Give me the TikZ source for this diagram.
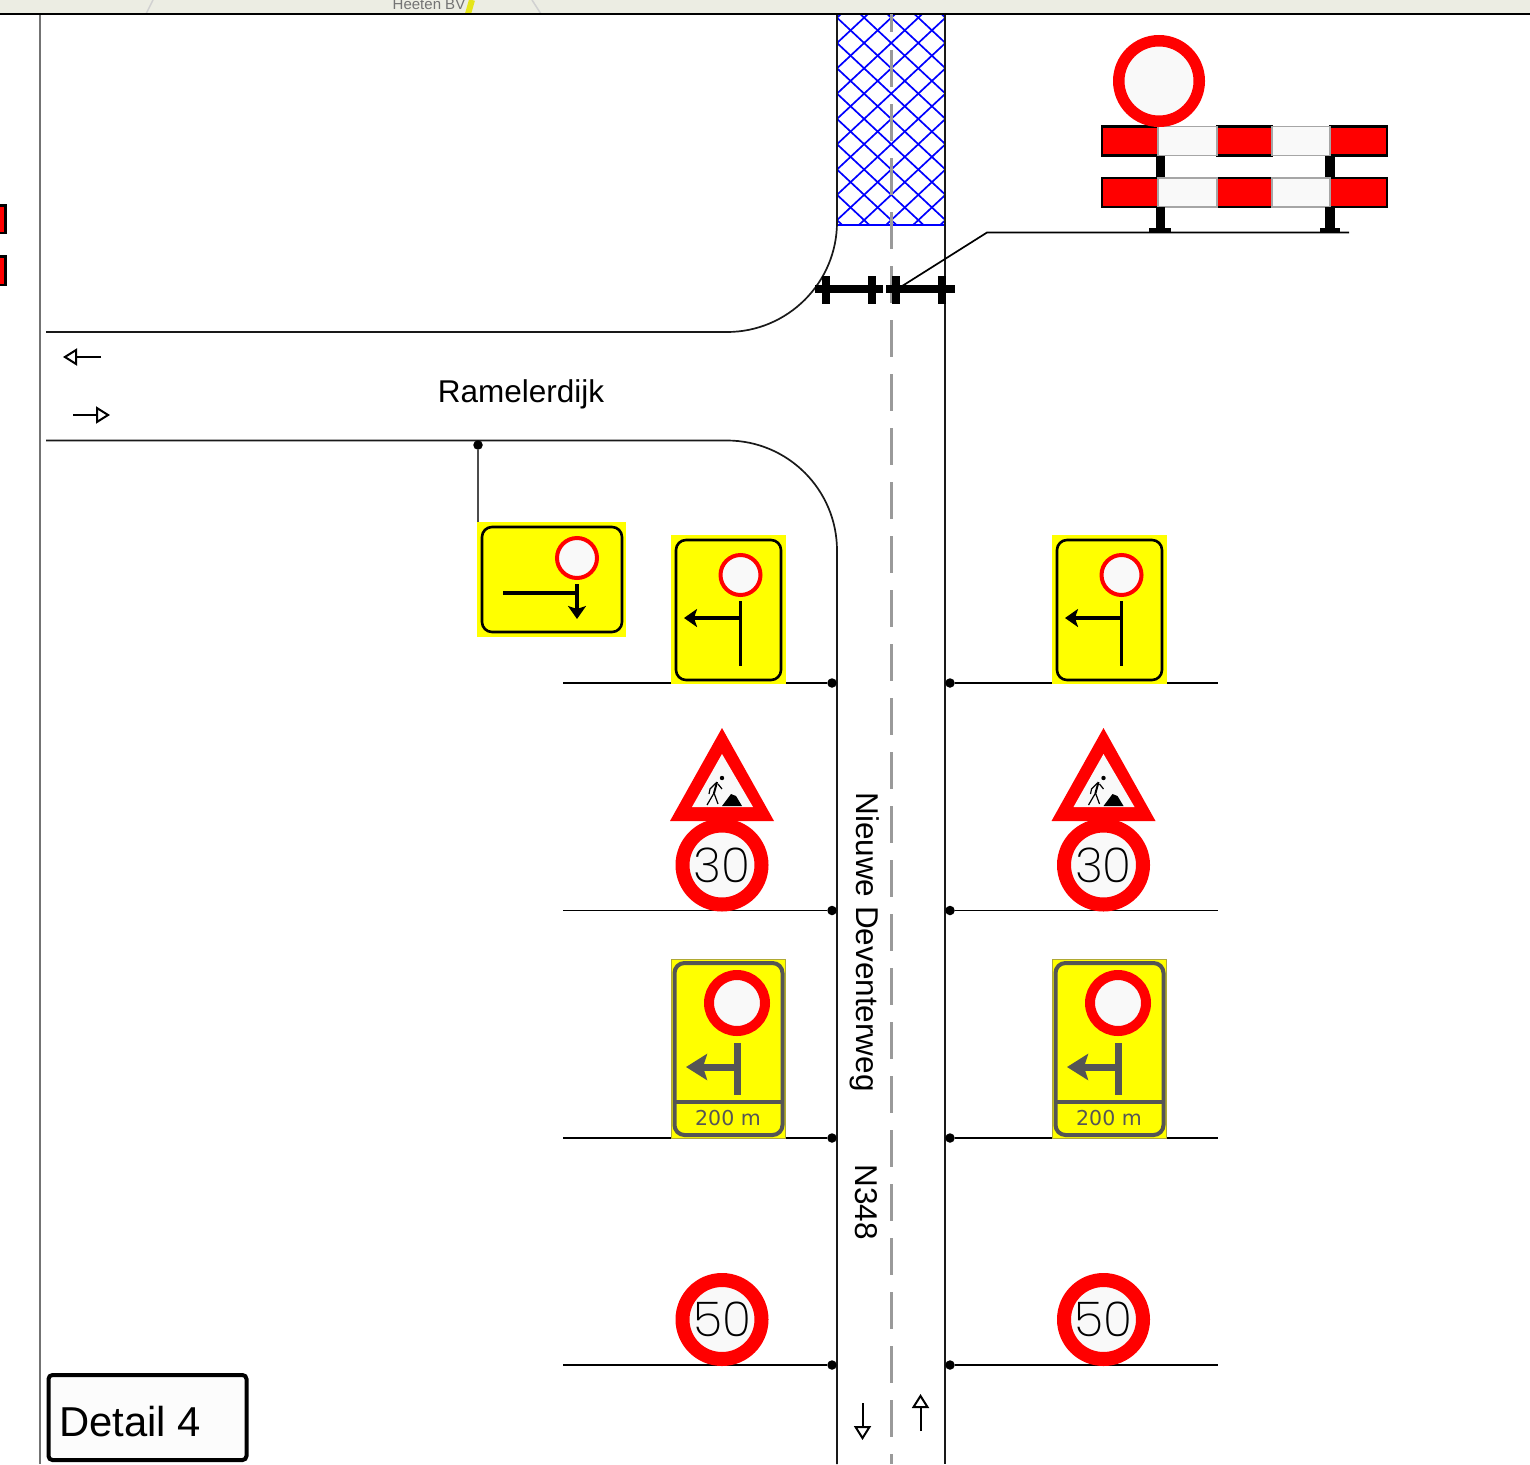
\documentclass[tikz,border=0pt]{standalone}
\usepackage{fontspec}
\setmainfont{Liberation Sans}
\newfontfamily\thinfont[UprightFont={* ExtraLight}]{Poppins}
\newfontfamily\platefont{DejaVu Sans}
\usetikzlibrary{arrows.meta,shapes.geometric}
\definecolor{signred}{HTML}{FF0000}
\definecolor{signyellow}{HTML}{FFFF00}
\definecolor{signwhite}{HTML}{F9F9F9}
\definecolor{plategrey}{HTML}{555555}
\definecolor{band}{HTML}{ECEDE3}
\definecolor{dashgrey}{HTML}{9A9A9A}
\tikzset{
  road/.style={black!90,line width=1.7pt},
  postline/.style={black,line width=1.9pt},
  postdot/.style={circle,fill=black,inner sep=0pt,minimum size=9.5pt},
  ring/.style={circle,draw=signred,fill=signwhite,inner sep=0pt},
  bigring/.style={ring,line width=14pt,minimum size=79pt},
  yellowbg/.style={fill=signyellow,draw=none},
  plate/.style={draw=black,line width=2.6pt,rounded corners=10pt},
  greyplate/.style={draw=plategrey,line width=4pt,rounded corners=10pt},
  flow/.style={black,line width=2pt,-{Triangle[open,length=14pt,width=17pt,line width=2pt]}},
  signarrow/.style={line width=4pt,-{Stealth[length=13pt,width=18pt,inset=3pt]}},
  bigarrow/.style={plategrey,line width=7pt,-{Stealth[length=21pt,width=26pt,inset=4pt]}},
  roadlabel/.style={font=\fontsize{31.5}{34}\selectfont,inner sep=0pt},
  speedtext/.style={font=\thinfont\fontsize{48}{50}\selectfont,text=black},
  barred/.style={fill=signred,draw=black,line width=2.4pt},
  barwhite/.style={fill=signwhite,draw=black!35,line width=1.2pt},
  postbar/.style={fill=black,draw=none},
  closure/.style={black,line width=8pt}
}
\newcommand{\speedsign}[4]{\node[bigring,speedtext] (#1) at (#2,#3) {#4};}
\newcommand{\worksign}[2]{%
  \begin{scope}[shift={(#1,0)}]
    \node[draw=none,inner sep=0pt] (#2) at (0,790) {};
    \fill[signred] (0,728) -- (52,821) -- (-52,821) -- cycle;
    \fill[signwhite] (0,754) -- (31,807) -- (-30,807) -- cycle;
    \fill[black] (0,778) circle (2.2pt);
    \draw[black,line width=2pt] (-5,782) -- (-8,793);
    \draw[black,line width=1.2pt] (-8,793) -- (-15,805) (-8,793) -- (-4,804) (-6,783) -- (-12,789) -- (-13,794) (-4,784) -- (0,789);
    \fill[black] (0,806) -- (9,794) -- (14,796) -- (20,806) -- cycle;
  \end{scope}}
\newcommand{\detoursign}[2]{%
  \begin{scope}[shift={(#1,0)}]
    \fill[yellowbg] (671,535) rectangle (785.5,684);
    \draw[plate] (676,540) rectangle (781,680);
    \node[ring,line width=4pt,minimum size=40pt] (#2) at (740.5,575) {};
    \coordinate (#2top) at (740.5,601);
    \coordinate (#2bot) at (740.5,666);
    \coordinate (#2mid) at (740.5,618);
    \coordinate (#2tip) at (684,618);
    \draw[black,line width=3.5pt] (#2top) -- (#2bot);
    \draw[signarrow] (#2mid) -- (#2tip);
  \end{scope}}
\newcommand{\noticesign}[3]{%
  \begin{scope}[shift={(#1,0)}]
    \fill[yellowbg] (671,959) rectangle (785,1138);
    \draw[olive!70,line width=.8pt] (671,959) rectangle (785,1138);
    \fill[yellowbg] (672,960) rectangle (784,1137);
    \draw[greyplate] (674.5,963) rectangle (782.5,1135);
    \draw[plategrey,line width=4pt] (674.5,1102) -- (782.5,1102);
    \node[ring,line width=10pt,minimum size=56pt] (#2) at (#3,1003) {};
    \coordinate (#2top) at (#3,1043);
    \coordinate (#2bot) at (#3,1095);
    \coordinate (#2mid) at (#3,1067);
    \coordinate (#2tip) at (686,1067);
    \draw[plategrey,line width=7pt] (#2top) -- (#2bot);
    \draw[bigarrow] (#2mid) -- (#2tip);
    \node[text=plategrey,font=\platefont\fontsize{20.5}{22}\selectfont,inner sep=0pt] (#2txt) at (728,1118) {200 m};
  \end{scope}}
\begin{document}
\begin{tikzpicture}[x=1pt,y=-1pt]
\useasboundingbox (0,0) rectangle (1530,1464);
\fill[white] (0,0) rectangle (1530,1464);
% top band of the map behind
\begin{scope}
  \clip (0,0) rectangle (1530,13.5);
  \fill[band] (0,0) rectangle (1530,14);
  \draw[black!18,line width=1.5pt] (153,0) -- (146,14);
  \draw[black!18,line width=1.5pt] (532,0) -- (541,14);
  \draw[signyellow!80!gray,line width=6pt] (472,0) -- (468,14);
  \node[text=black!55,font=\fontsize{15}{17}\selectfont,inner sep=0pt] (heeten) at (429,4) {Heeten BV};
\end{scope}
\coordinate (bandL) at (0,14);
\coordinate (bandR) at (1530,14);
% left frame and remains of a barrier
\coordinate (frameT) at (40,14);
\coordinate (frameB) at (40,1464);
\draw[black!55,line width=1.6pt] (frameT) -- (frameB);
\draw[barred] (-4,205.5) rectangle (5.5,233);
\draw[barred] (-4,256.5) rectangle (5.5,285);
% closed section
\begin{scope}
  \clip (837,14) rectangle (945,225);
  \foreach \k in {-12,...,12}{
    \draw[blue,line width=1.7pt] (837,43+25.3*\k) -- ++(108,100.8);
    \draw[blue,line width=1.7pt] (837,43+25.3*\k) -- ++(108,-100.8);
  }
\end{scope}
\draw[blue,line width=1.7pt] (837,225) -- (945,225);
% road edges
\coordinate (leftT) at (837,14);
\coordinate (rightT) at (945,14);
\coordinate (rightB) at (945,1464);
\coordinate (leftB) at (837,1464);
\coordinate (upperW) at (46,332);
\coordinate (lowerW) at (46,440.5);
\draw[road] (rightT) -- (rightB);
\draw[road] (leftT) -- (837,222) arc[start angle=0,end angle=90,radius=110] -- (upperW);
\draw[road] (leftB) -- (837,550.5) arc[start angle=0,end angle=-90,radius=110] -- (lowerW);
\draw[band!0!black,line width=1.6pt] (bandL) -- (bandR);
% centre line
\coordinate (centreT) at (891,14);
\coordinate (centreB) at (891,1464);
\draw[dashgrey,line width=3pt,dash pattern=on 36.5pt off 17.5pt,dash phase=18pt] (centreT) -- (centreB);
% closure
\coordinate (c1a) at (815,289);\coordinate (c1b) at (883,289);
\coordinate (c2a) at (886,289);\coordinate (c2b) at (955,289);
\draw[closure] (c1a) -- (c1b);
\draw[closure] (c2a) -- (c2b);
\foreach \x in {826,872,896,942}{\draw[closure] (\x,276) -- (\x,304);}
% barrier detail
\foreach \y in {126.5,178}{
  \draw[barred] (1102,\y) rectangle (1158,\y+29);
  \draw[barred] (1217,\y) rectangle (1272,\y+29);
  \draw[barred] (1330,\y) rectangle (1387,\y+29);
  \draw[barwhite] (1158,\y) rectangle (1217,\y+29);
  \draw[barwhite] (1272,\y) rectangle (1330,\y+29);
}
\foreach \x in {1155.5,1325}{
  \fill[postbar] (\x,156) rectangle (\x+9.5,177);
  \fill[postbar] (\x,207) rectangle (\x+9.5,229);
}
\fill[postbar] (1149,228) rectangle (1171,232.5);
\fill[postbar] (1320,228) rectangle (1340,232.5);
\node[ring,line width=11.5pt,minimum size=80.5pt] (closedsign) at (1159,81) {};
\coordinate (leaderS) at (1349,232.5);
\coordinate (leaderK) at (987,232.5);
\coordinate (leaderE) at (899,288);
\draw[black,line width=1.7pt] (leaderS) -- (leaderK) -- (leaderE);
% flow arrows
\coordinate (w1a) at (101,357);\coordinate (w1b) at (63,357);
\coordinate (e1a) at (73,415);\coordinate (e1b) at (110,415);
\coordinate (s1a) at (862.5,1403);\coordinate (s1b) at (862.5,1440);
\coordinate (n1a) at (920.5,1431);\coordinate (n1b) at (920.5,1394);
\draw[flow] (w1a) -- (w1b);
\draw[flow] (e1a) -- (e1b);
\draw[flow] (s1a) -- (s1b);
\draw[flow] (n1a) -- (n1b);
% road names
\node[roadlabel] (ramel) at (521,394) {Ramelerdijk};
\node[roadlabel,rotate=-90] (deventer) at (865,942) {Nieuwe Deventerweg};
\node[roadlabel,rotate=-90] (nnum) at (866,1202) {N348};
% sign posts
\foreach \n/\y in {a/683,b/910.5,c/1138,d/1365}{
  \node[postdot] (L\n) at (832,\y) {};
  \node[postdot] (R\n) at (950,\y) {};
  \coordinate (Lf\n) at (563,\y);
  \coordinate (Rf\n) at (1218,\y);
  \draw[postline] (L\n) -- (Lf\n);
  \draw[postline] (R\n) -- (Rf\n);
}
% horizontal detour sign on the side road
\node[postdot] (sideD) at (478,445) {};
\coordinate (sideE) at (478,522);
\draw[black!70,line width=2pt] (sideD) -- (sideE);
\fill[yellowbg] (477,522) rectangle (626,637);
\draw[plate] (482,527) rectangle (622,632);
\node[ring,line width=4pt,minimum size=40pt] (sidering) at (577,558) {};
\coordinate (sA) at (503,593);\coordinate (sB) at (577,593);
\coordinate (sC) at (577,584);\coordinate (sD) at (577,619);
\draw[black,line width=3.5pt] (sA) -- (sB);
\draw[signarrow] (sC) -- (sD);
% detour signs
\detoursign{0}{dl}
\detoursign{381}{dr}
% works and 30 signs
\worksign{722}{wl}
\worksign{1103.5}{wr}
\speedsign{sl30}{722}{865}{30}
\speedsign{sr30}{1103.5}{865}{30}
% advance notice signs
\noticesign{0}{nl}{737}
\noticesign{381}{nr}{737}
% 50 signs
\speedsign{sl50}{722}{1319.5}{50}
\speedsign{sr50}{1103.5}{1319.5}{50}
% detail label
\node[draw=black,line width=4pt,rounded corners=4pt,fill=signwhite!50!white,minimum width=198pt,minimum height=85pt,inner sep=0pt] (detail) at (147.5,1417.5) {};
\node[font=\fontsize{41.8}{44}\selectfont,inner sep=0pt,anchor=base west] (detailtxt) at (59,1436) {Detail 4};
\end{tikzpicture}
\end{document}
